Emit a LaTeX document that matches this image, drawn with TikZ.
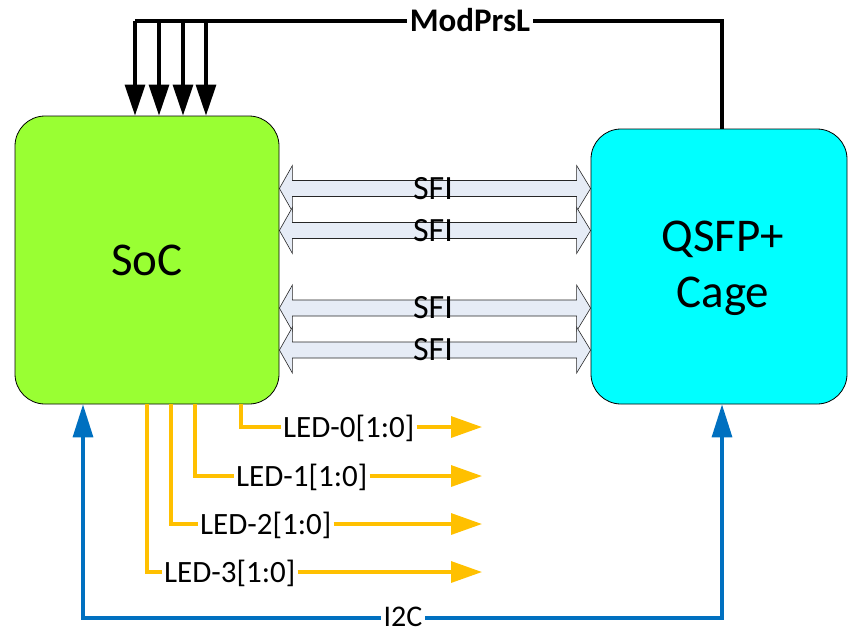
\documentclass[tikz,border=0pt]{standalone}
\usepackage{fontspec}
\setmainfont{Carlito}
\usetikzlibrary{arrows.meta,calc}
\definecolor{socgreen}{HTML}{99FF33}
\definecolor{cagecyan}{HTML}{00FFFF}
\definecolor{ledorange}{HTML}{FFC000}
\definecolor{i2cblue}{HTML}{0070C0}
\definecolor{sfifill}{HTML}{E6ECF6}
\tikzset{
  block/.style={draw=black, line width=0.8pt, rounded corners=30pt, inner sep=0pt},
  bigtext/.style={font=\fontsize{47}{56}\selectfont},
  sfiarrow/.style={fill=sfifill, draw=black!85, line width=0.6pt, line join=miter},
  sfilabel/.style={font=\fontsize{34}{40}\selectfont, inner sep=0pt},
  ledline/.style={draw=ledorange, line width=3.3pt, line join=miter},
  ledtip/.style={-{Triangle[length=31pt,width=21pt]}},
  ledlabel/.style={font=\fontsize{31}{36}\selectfont, text height=20pt, text depth=0pt, inner xsep=2pt, inner ysep=0pt, anchor=west},
  modline/.style={draw=black, line width=3.2pt, line join=miter},
  modtip/.style={-{Triangle[length=31pt,width=20pt]}},
  i2cline/.style={draw=i2cblue, line width=3.3pt, line join=miter},
  i2ctip/.style={{Triangle[length=33pt,width=20pt]}-{Triangle[length=33pt,width=20pt]}},
  wirelabel/.style={fill=white, text height=20pt, text depth=0pt, inner xsep=3pt, inner ysep=0pt},
}
\begin{document}
\begin{tikzpicture}[x=1pt,y=-1pt]
\useasboundingbox (0,0) rectangle (848,633);

% blocks
\node[block, fill=socgreen, minimum width=264pt, minimum height=288pt, bigtext] (soc) at (147,260) {SoC};
\node[block, fill=cagecyan, minimum width=256pt, minimum height=275pt] (cage) at (719,266.5) {};
\node[bigtext, align=center, inner sep=0pt] (cagetxt) at (723,268) {QSFP+\\Cage};

% SFI double arrows
\foreach \c/\n in {188.5/1,230.5/2,308/3,350/4} {
  \path (soc.east |- 0,\c) coordinate (l\n) (cage.west |- 0,\c) coordinate (r\n);
  \draw[sfiarrow] (l\n) -- ++(13,-23) -- ++(0,15) -- ($(r\n)+(-14,-8)$) -- ++(0,-15) -- (r\n)
     -- ++(-14,23) -- ++(0,-15) -- ($(l\n)+(13,8)$) -- ++(0,15) -- cycle;
}
\foreach \n in {1,2,3,4} {
  \node[sfilabel] (sfi\n) at ($(l\n)!0.4936!(r\n)$) {SFI};
}

% ModPrsL
\coordinate (mtop) at (135,21);
\coordinate (mright) at (722,21);
\draw[modline] (cage.north -| mright) -- (mright) -- (mtop);
\foreach \x in {135,159,183,206} {
  \draw[modline, modtip] (mtop -| \x,0) -- (soc.north -| \x,0);
}
\node[wirelabel, font=\bfseries\fontsize{33}{38}\selectfont, text height=21pt] (modprsl) at (470,21) {ModPrsL};

% LEDs
\foreach \i/\x/\y/\tx in {0/241/427/283, 1/195/476/236, 2/171/524/200, 3/147/572/164} {
  \node[ledlabel] (led\i) at (\tx-2,\y) {LED-\i[1:0]};
  \coordinate (ledend\i) at (482,\y);
  \draw[ledline] (soc.south -| \x,0) |- (led\i.west);
  \draw[ledline, ledtip] (led\i.east) -- (ledend\i);
}

% I2C
\coordinate (i2cl) at (83,618);
\coordinate (i2cr) at (722,618);
\draw[i2cline, i2ctip] (soc.south -| i2cl) -- (i2cl) -- (i2cr) -- (cage.south -| i2cr);
\node[wirelabel, font=\fontsize{30}{36}\selectfont, text height=19pt] (i2c) at (403,617) {I2C};
\end{tikzpicture}
\end{document}
